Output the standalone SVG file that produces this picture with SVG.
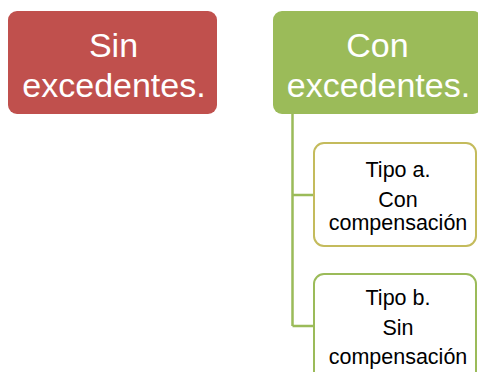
<svg xmlns="http://www.w3.org/2000/svg" width="478" height="372" viewBox="0 0 478 372">
<style>
.big{font-family:"Liberation Sans",Arial,sans-serif;font-size:34px;fill:#ffffff;text-anchor:middle}
.small{font-family:"Liberation Sans",Arial,sans-serif;font-size:21.5px;fill:#000000;text-anchor:middle}
.conn{stroke:#9bbb59;stroke-width:2.5;fill:none}
</style>
<rect width="478" height="372" fill="#ffffff"/>
<g id="connectors">
<path class="conn" d="M292.5 114 V326 M292.5 195 H313 M292.5 326 H313"/>
</g>
<g id="sin-excedentes">
<rect x="8" y="11" width="209" height="103" rx="9" fill="#c0504d"/>
<text class="big" x="113.5" y="57">Sin</text>
<text class="big" x="114" y="97">excedentes.</text>
</g>
<g id="con-excedentes">
<rect x="273" y="11" width="209" height="103" rx="9" fill="#9bbb59"/>
<text class="big" x="377.5" y="57">Con</text>
<text class="big" x="378.5" y="97">excedentes.</text>
</g>
<g id="tipo-a">
<rect x="314" y="143" width="162" height="103" rx="10" fill="#ffffff" stroke="#c4bb5c" stroke-width="2"/>
<text class="small" x="398" y="177">Tipo a.</text>
<text class="small" x="398" y="207">Con</text>
<text class="small" x="398" y="230">compensación</text>
</g>
<g id="tipo-b">
<rect x="314" y="274" width="162" height="110" rx="10" fill="#ffffff" stroke="#9bbb59" stroke-width="2"/>
<text class="small" x="398" y="305">Tipo b.</text>
<text class="small" x="398" y="335">Sin</text>
<text class="small" x="398" y="364">compensación</text>
</g>
</svg>
